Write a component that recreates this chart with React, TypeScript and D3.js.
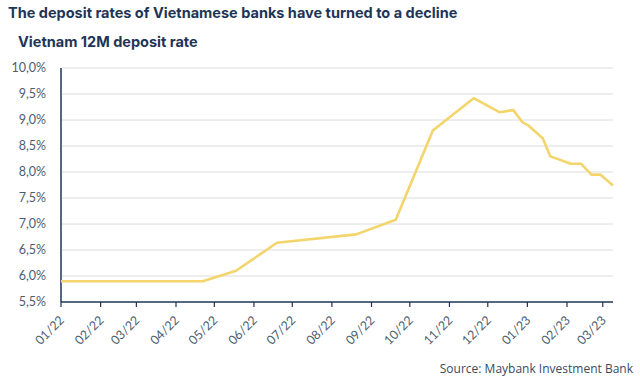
import React from "react";
import * as d3 from "d3";

const dates = [
  "2022-01-01", "2022-04-22", "2022-05-18", "2022-06-19", "2022-08-20",
  "2022-09-20", "2022-10-19", "2022-11-20", "2022-12-10", "2022-12-21",
  "2022-12-28", "2023-01-02", "2023-01-13", "2023-01-19", "2023-02-04",
  "2023-02-12", "2023-02-20", "2023-02-27", "2023-03-09",
];
const rates = [
  5.9, 5.9, 6.1, 6.64, 6.8,
  7.08, 8.8, 9.42, 9.15, 9.19,
  8.96, 8.89, 8.65, 8.3, 8.16,
  8.16, 7.95, 7.95, 7.74,
];
const yTicks = [5.5, 6.0, 6.5, 7.0, 7.5, 8.0, 8.5, 9.0, 9.5, 10.0];
const xTickLabels = [
  "01/22", "02/22", "03/22", "04/22", "05/22", "06/22", "07/22", "08/22",
  "09/22", "10/22", "11/22", "12/22", "01/23", "02/23", "03/23",
];

const W = 640;
const H = 381;
const navy = "#1d3557";
const tickColor = "#4d5d70";

export default function App() {
  const parse = d3.utcParse("%Y-%m-%d");
  const data = dates.map((d, i) => ({ date: parse(d) as Date, v: rates[i] }));
  const x = d3
    .scaleUtc()
    .domain([parse("2022-01-01") as Date, parse("2023-03-09") as Date])
    .range([61, 613]);
  const y = d3.scaleLinear().domain([5.5, 10]).range([302, 68]);
  const xTickDates = xTickLabels.map((l) => {
    const [m, yy] = l.split("/");
    return new Date(Date.UTC(2000 + +yy, +m - 1, 1));
  });
  const line = d3
    .line<{ date: Date; v: number }>()
    .x((d) => x(d.date))
    .y((d) => y(d.v));
  const fmt = (v: number) => v.toFixed(1).replace(".", ",") + "%";

  return (
    <svg
      width={W}
      height={H}
      style={{ position: "absolute", left: 0, top: 0, background: "#fff" }}
      fontFamily="Inter, 'Open Sans', sans-serif"
    >
      <text x={8} y={18} fontSize={14.5} fontWeight={700} fill={navy}>
        The deposit rates of Vietnamese banks have turned to a decline
      </text>
      <text x={18} y={47} fontSize={14.5} fontWeight={700} fill={navy}>
        Vietnam 12M deposit rate
      </text>
      {yTicks.map((t) => (
        <g key={t}>
          {t > 5.5 && (
            <line x1={62} x2={613} y1={y(t)} y2={y(t)} stroke="#dcdcdc" strokeWidth={1} />
          )}
          <text
            x={46}
            y={y(t)}
            dy="0.35em"
            textAnchor="end"
            fontSize={12.5}
            fill={tickColor}
            fontFamily="Lato, sans-serif"
          >
            {fmt(t)}
          </text>
        </g>
      ))}
      <line x1={61} x2={61} y1={68} y2={302} stroke={navy} strokeWidth={1.5} />
      <line x1={61} x2={613} y1={302} y2={302} stroke={navy} strokeWidth={1.5} />
      {xTickDates.map((d, i) => (
        <g key={i} transform={`translate(${x(d)},302)`}>
          <line y1={0} y2={5} stroke={navy} strokeWidth={1.2} />
          <text
            transform="translate(4,19) rotate(-45)"
            textAnchor="end"
            fontSize={12.5}
            fill={tickColor}
            fontFamily="Lato, sans-serif"
          >
            {xTickLabels[i]}
          </text>
        </g>
      ))}
      <path d={line(data) || ""} fill="none" stroke="#f3d56c" strokeWidth={2.6} strokeLinejoin="round" />
      <text
        x={633}
        y={373}
        textAnchor="end"
        fontSize={12}
        fill="#3a4a5e"
        fontFamily="'Open Sans', sans-serif"
      >
        Source: Maybank Investment Bank
      </text>
    </svg>
  );
}
